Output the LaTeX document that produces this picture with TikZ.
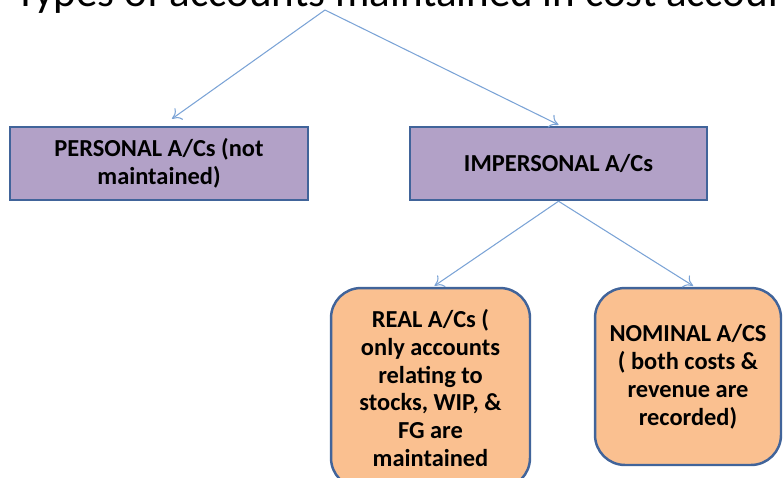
\documentclass[tikz,border=0pt]{standalone}
\usepackage{fontspec}
\setmainfont{Carlito}
\usetikzlibrary{arrows.meta, positioning}
\definecolor{boxpurple}{HTML}{B2A1C7}
\definecolor{boxorange}{HTML}{FAC090}
\definecolor{boxline}{HTML}{41649A}
\definecolor{arrowblue}{HTML}{7BA3D6}
\tikzset{
	acct/.style={draw=boxline, line width=1.4pt, fill=boxpurple, align=center,
		font=\bfseries\fontsize{13.9}{15.9}\selectfont, inner sep=0pt},
	subacct/.style={acct, fill=boxorange, rounded corners=0.6cm},
	link/.style={draw=arrowblue, line width=0.6pt, -{To[length=5pt,width=8pt]}}
}

\begin{document}
\begin{tikzpicture}[x=0.02cm, y=-0.02cm]
	\useasboundingbox (0,0) rectangle (783,477);
	\node[anchor=base west, font=\fontsize{24.5}{28}\selectfont, inner sep=0pt] (title) at (15,6)
		{Types of accounts maintained in cost accounting};
	\coordinate (root) at (325,10);
	\node[acct, minimum width=5.96cm, minimum height=1.46cm] (personal) at (159,163.5)
		{PERSONAL A/Cs (not\\maintained)};
	\node[acct, minimum width=5.94cm, minimum height=1.46cm] (impersonal) at (558.5,163.5)
		{IMPERSONAL A/Cs};
	\node[subacct, minimum width=3.98cm, minimum height=4cm] (real) at (430.5,388)
		{REAL A/Cs (\\only accounts\\relating to\\stocks, WIP, \&\\FG are\\maintained};
	\node[subacct, minimum width=3.72cm, minimum height=3.54cm] (nominal) at (688,376.5)
		{NOMINAL A/CS\\( both costs \&\\revenue are\\recorded)};
	% links
	\draw[link] (root) -- ([shift={(13,-7)}]personal.north);
	\draw[link] (root) -- ([shift={(0,-1)}]impersonal.north);
	\draw[link] (impersonal.south) -- ([shift={(4,-1)}]real.north);
	\draw[link] (impersonal.south) -- ([shift={(5,-1)}]nominal.north);
\end{tikzpicture}
\end{document}
